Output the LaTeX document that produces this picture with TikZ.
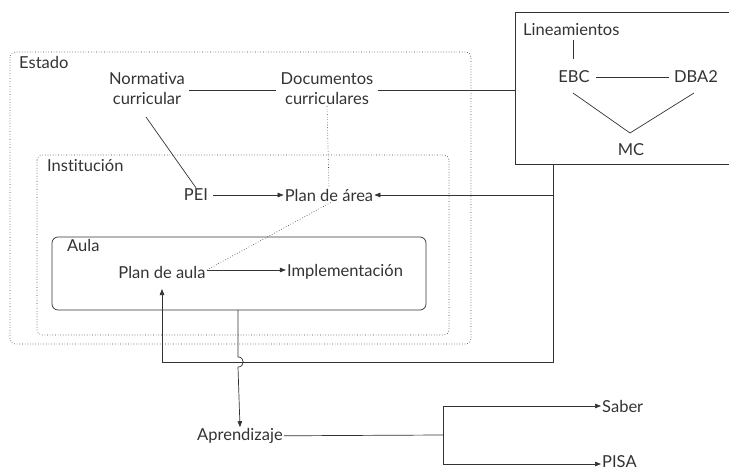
\documentclass[tikz,border=0pt]{standalone}
\usepackage{fontspec}
\setmainfont{Lato}[Ligatures=NoCommon]
\usetikzlibrary{arrows.meta,calc}
\begin{document}
\begin{tikzpicture}[x=1pt,y=-1pt,
  txt/.style={font=\fontsize{16.5}{20}\selectfont, inner sep=1pt, text=black!80},
  ln/.style={draw=black!80, line width=0.7pt},
  dot/.style={draw=black!75, line width=0.65pt, dotted},
  arr/.style={ln, -{Triangle[length=6pt,width=4.5pt]}}]
\useasboundingbox (0,0) rectangle (729,471);
% boxes
\draw[dot, rounded corners=5pt] (10,52) rectangle (471,344);
\draw[dot, rounded corners=5pt] (37,155) rectangle (449,335);
\draw[ln, rounded corners=6pt] (52,237) rectangle (426,310);
\draw[ln] (740,12) -- (515,12) -- (515,164) -- (740,164);
% labels
\node[txt, anchor=west] (estado) at (18,62) {Estado};
\node[txt, anchor=west] (inst) at (46,166) {Institución};
\node[txt, anchor=west] (aula) at (66,245) {Aula};
\node[txt, align=center] (norm) at (147,89) {Normativa\\curricular};
\node[txt, align=center] (docs) at (327,89) {Documentos\\curriculares};
\node[txt, anchor=west] (lin) at (522,30) {Lineamientos};
\node[txt] (ebc) at (574,77) {EBC};
\node[txt] (dba) at (696,77) {DBA2};
\node[txt] (mc) at (631,150) {MC};
\node[txt] (pei) at (196,195) {PEI};
\node[txt] (parea) at (329,195) {Plan de área};
\node[txt] (paula) at (162,272) {Plan de aula};
\node[txt] (impl) at (345,272) {Implementación};
\node[txt] (apr) at (240,436) {Aprendizaje};
\node[txt, anchor=west] (saber) at (601,406) {Saber};
\node[txt, anchor=west] (pisa) at (601,462) {PISA};
% coordinates
\coordinate (linebox) at (515,90);
\coordinate (boxbot) at (553,164);
\coordinate (rt) at (553,195);
\coordinate (corner) at (553,362);
\coordinate (lc) at (162,362);
\coordinate (aulabot) at (238,310);
\coordinate (fork) at (443,435);
% top connections
\draw[ln] ($(norm.east |- 0,90)+(3,0)$) -- ($(docs.west |- 0,90)+(-3,0)$);
\draw[ln] ($(docs.east |- 0,90)+(3,0)$) -- (linebox);
\draw[ln] (573,40) -- (573,59);
\draw[ln] ($(ebc.east)+(5,0)$) -- ($(dba.west)+(-4,0)$);
\draw[ln] (573,93) -- (630,133);
\draw[ln] (694,93) -- (630,133);
\draw[ln] (146,117) -- (pei.north);
\draw[dot] (docs.south) -- (parea.north);
\draw[arr] ($(pei.east)+(4,0)$) -- (parea.west);
\draw[arr] (boxbot) -- (rt) -- (parea.east);
\draw[dot] ($(paula.east)+(0,-2)$) -- ($(parea.south)+(2,0)$);
\draw[arr] (paula.east |- 0,270) -- (impl.west |- 0,270);
\draw[arr] (rt) -- (corner) -- (lc) -- (paula.south |- 0,289);
\draw[arr] (aulabot) -- (238,357) .. controls (245,357) and (245,367) .. (238,367) -- (apr.north);
\draw[ln] (apr) -- (fork);
\draw[arr] (443,406) -- (saber.west);
\draw[arr] (443,464) -- (pisa.west |- 0,464);
\draw[ln] (443,406) -- (443,464);
\end{tikzpicture}
\end{document}
